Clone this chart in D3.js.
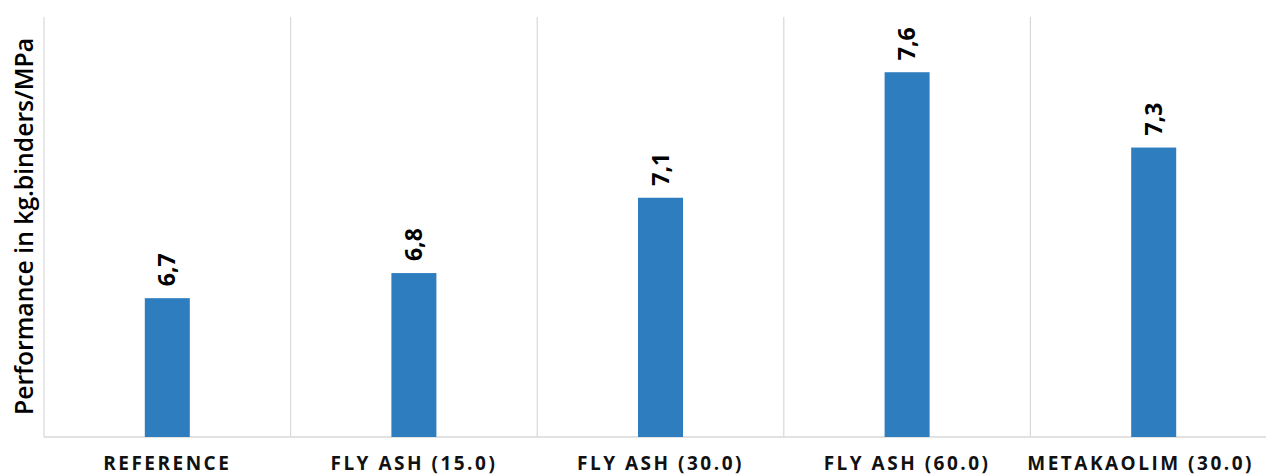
<!DOCTYPE html>
<html>
<head>
<meta charset="utf-8">
<script src="https://cdn.jsdelivr.net/npm/d3@7/dist/d3.min.js"></script>
<style>
  html, body { margin: 0; padding: 0; background: #ffffff; }
  svg { display: block; }
</style>
</head>
<body>
<svg id="chart" width="1266" height="476"></svg>
<script>
// Binder performance per mix
const categories = ["REFERENCE", "FLY ASH (15.0)", "FLY ASH (30.0)", "FLY ASH (60.0)", "METAKAOLIM (30.0)"];
const values = [6.7, 6.8, 7.1, 7.6, 7.3];
const valueLabels = ["6,7", "6,8", "7,1", "7,6", "7,3"];
const yTitle = "Performance in kg.binders/MPa";
const yDomain = [6.147, 7.82];

const W = 1266, H = 476;
const plot = { left: 44, right: 1277, top: 17, bottom: 437 };

const svg = d3.select("#chart");

const x = d3.scaleBand()
  .domain(categories)
  .range([plot.left, plot.right])
  .paddingInner(0.8175)
  .paddingOuter(0.8175 / 2);

const y = d3.scaleLinear()
  .domain(yDomain)
  .range([plot.bottom, plot.top]);

const step = x.step();

// vertical separators between categories
const bounds = d3.range(categories.length + 1).map(i => plot.left + i * step);
svg.append("g")
  .selectAll("line")
  .data(bounds)
  .join("line")
  .attr("x1", d => d).attr("x2", d => d)
  .attr("y1", plot.top).attr("y2", plot.bottom)
  .attr("stroke", "#d9d9d9")
  .attr("stroke-width", 1.2);

// baseline
svg.append("line")
  .attr("x1", plot.left).attr("x2", W)
  .attr("y1", plot.bottom).attr("y2", plot.bottom)
  .attr("stroke", "#d9d9d9")
  .attr("stroke-width", 1.5);

// bars
svg.append("g")
  .selectAll("rect")
  .data(categories)
  .join("rect")
  .attr("x", d => x(d))
  .attr("width", x.bandwidth())
  .attr("y", (d, i) => y(values[i]))
  .attr("height", (d, i) => plot.bottom - y(values[i]))
  .attr("fill", "#2e7dbf");

// value labels, rotated
svg.append("g")
  .selectAll("text")
  .data(categories)
  .join("text")
  .attr("transform", (d, i) => {
    const cx = x(d) + x.bandwidth() / 2 + 8;
    const cy = y(values[i]) - 12;
    return `translate(${cx},${cy}) rotate(-90)`;
  })
  .attr("text-anchor", "start")
  .attr("font-family", "'Open Sans', 'DejaVu Sans', sans-serif")
  .attr("font-weight", "bold")
  .attr("font-size", 23)
  .attr("fill", "#000")
  .text((d, i) => valueLabels[i]);

// category labels
const catLabels = svg.append("g")
  .selectAll("text")
  .data(categories)
  .join("text")
  .attr("x", d => x(d) + x.bandwidth() / 2)
  .attr("y", 470)
  .attr("text-anchor", "middle")
  .attr("font-family", "'Open Sans', 'DejaVu Sans', sans-serif")
  .attr("font-weight", "bold")
  .attr("font-size", 19)
  .attr("letter-spacing", "2.5px")
  .attr("fill", "#111")
  .text(d => d);

// keep labels inside the drawing area
catLabels.each(function () {
  const bb = this.getBBox();
  const over = bb.x + bb.width - (W - 12);
  if (over > 0) d3.select(this).attr("x", +d3.select(this).attr("x") - over);
});

// y axis title
svg.append("text")
  .attr("transform", `translate(33,${(38 + 415) / 2}) rotate(-90)`)
  .attr("text-anchor", "middle")
  .attr("font-family", "'Open Sans', 'DejaVu Sans', sans-serif")
  .attr("font-size", 25)
  .attr("font-weight", 600)
  .attr("textLength", 377)
  .attr("lengthAdjust", "spacingAndGlyphs")
  .attr("fill", "#000")
  .text(yTitle);
</script>
</body>
</html>
